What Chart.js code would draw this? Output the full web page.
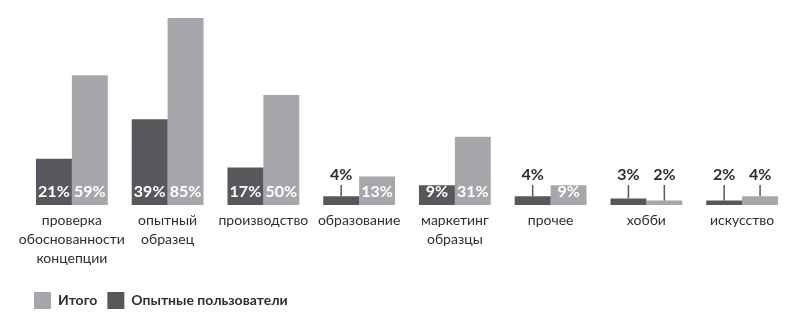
<!DOCTYPE html>
<html><head><meta charset="utf-8">
<script src="https://cdn.jsdelivr.net/npm/chart.js@4/dist/chart.umd.min.js"></script>
<style>html,body{margin:0;padding:0;background:#fff;}canvas{display:block;}</style>
</head><body>
<canvas id="c" width="790" height="323"></canvas>
<script>
const categories = [
  ['проверка','обоснованности','концепции'],
  ['опытный','образец'],
  'производство',
  'образование',
  ['маркетинг','образцы'],
  'прочее',
  'хобби',
  'искусство'
];
const experiencedUsers = [21, 39, 17, 4, 9, 4, 3, 2];
const totalValues = [59, 85, 50, 13, 31, 9, 2, 4];
const seriesNames = ['Опытные пользователи', 'Итого'];

const DARK = '#58575b';
const LIGHT = '#a6a7aa';
const TEXT = '#2e2e2e';
const FONT = 'Lato, "Open Sans", sans-serif';

const valueLabels = {
  id: 'valueLabels',
  afterDatasetsDraw(chart) {
    const ctx = chart.ctx;
    const base = chart.scales.y.getPixelForValue(0);
    ctx.save();
    ctx.font = 'bold 16px ' + FONT;
    ctx.textAlign = 'center';
    ctx.textBaseline = 'middle';
    chart.data.datasets.forEach((ds, di) => {
      const meta = chart.getDatasetMeta(di);
      meta.data.forEach((bar, i) => {
        const v = ds.data[i];
        const txt = v + '%';
        if (v >= 9) {
          ctx.fillStyle = '#ffffff';
          ctx.fillText(txt, bar.x, base - 13);
        } else {
          ctx.fillStyle = TEXT;
          ctx.fillText(txt, bar.x, base - 30);
          ctx.strokeStyle = DARK;
          ctx.lineWidth = 1.5;
          ctx.beginPath();
          ctx.moveTo(bar.x, base - 20);
          ctx.lineTo(bar.x, bar.y);
          ctx.stroke();
        }
      });
    });
    ctx.restore();
  }
};

new Chart(document.getElementById('c'), {
  type: 'bar',
  data: {
    labels: categories,
    datasets: [
      { label: seriesNames[0], data: experiencedUsers, backgroundColor: DARK },
      { label: seriesNames[1], data: totalValues, backgroundColor: LIGHT }
    ]
  },
  options: {
    responsive: false,
    animation: false,
    devicePixelRatio: 1,
    layout: { padding: { top: 18, left: 24, right: 0, bottom: 4 } },
    datasets: { bar: { categoryPercentage: 0.75, barPercentage: 1.0 } },
    scales: {
      x: {
        grid: { display: false, drawTicks: false },
        border: { display: false },
        ticks: {
          color: TEXT,
          font: { family: FONT, size: 14, lineHeight: '19px' },
          padding: 6,
          maxRotation: 0,
          autoSkip: false
        },
        afterFit(scale) { scale.height = 77; }
      },
      y: { display: false, min: 0, max: 85 }
    },
    plugins: {
      tooltip: { enabled: false },
      legend: {
        position: 'bottom',
        align: 'start',
        reverse: true,
        labels: {
          boxWidth: 17,
          boxHeight: 17,
          padding: 10,
          color: TEXT,
          font: { family: FONT, size: 14, weight: 'bold' }
        }
      }
    }
  },
  plugins: [valueLabels]
});
</script>
</body></html>
